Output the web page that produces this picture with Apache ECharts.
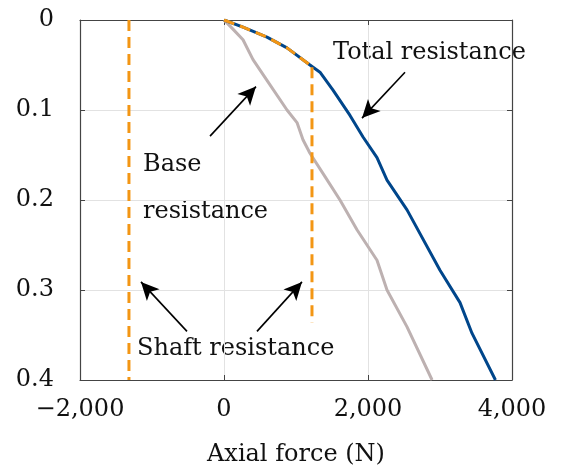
<!DOCTYPE html>
<html style="height: 100%">
<head>
<meta charset="utf-8">
<script src="https://cdn.jsdelivr.net/npm/echarts@6/dist/echarts.min.js"></script>
</head>
<body style="height: 100%; margin: 0; background: #fff">
<div id="container" style="width: 562px; height: 475px"></div>
<script type="text/javascript">
// total resistance curve: [axial force (N), displacement]
var totalCurve = [
  [0, 0], [264, 0.008], [597, 0.019], [875, 0.031], [1194, 0.05],
  [1333, 0.058], [1514, 0.078], [1750, 0.106], [1931, 0.13], [2125, 0.153],
  [2264, 0.178], [2542, 0.211], [3000, 0.278], [3278, 0.314], [3444, 0.348],
  [3770, 0.4]
];
// base resistance curve
var baseCurve = [
  [0, 0], [111, 0.009], [264, 0.022], [403, 0.044], [597, 0.067],
  [875, 0.1], [1014, 0.114], [1097, 0.133], [1194, 0.148], [1403, 0.174],
  [1611, 0.2], [1847, 0.233], [2125, 0.267], [2264, 0.3], [2542, 0.341],
  [2890, 0.4]
];
// shaft resistance (dashed): follows total until it levels off, then vertical
var shaftCurve = [
  [0, 0], [264, 0.008], [597, 0.019], [875, 0.031], [1194, 0.05],
  [1222, 0.05], [1222, 0.336]
];
var shaftNeg = [[-1320, 0], [-1320, 0.4]];

// annotation arrows [tail, head]
var arrows = [
  [[2514, 0.058], [1917, 0.109]],
  [[-194, 0.129], [444, 0.074]],
  [[-514, 0.346], [-1153, 0.291]],
  [[458, 0.346], [1083, 0.291]]
];

var xTicks = { min: -2000, max: 4000, interval: 2000 };
var yTicks = { min: 0, max: 0.4, interval: 0.1 };

var font = '"DejaVu Serif", "Liberation Serif", serif';
var fs = 24;
var axisColor = '#444';

var dom = document.getElementById("container");
var myChart = echarts.init(dom);

function xFmt(v) {
  return (v < 0 ? '\u2212' : '') + Math.abs(v).toLocaleString('en-US');
}
function yFmt(v) {
  return v === 0 ? '0' : String(+v.toFixed(1));
}

var option = {
  animation: false,
  grid: { left: 80, top: 20, right: 50, bottom: 95 },
  xAxis: [
    {
      type: 'value', position: 'bottom',
      min: xTicks.min, max: xTicks.max, interval: xTicks.interval,
      name: 'Axial force (N)', nameLocation: 'middle', nameGap: 63,
      nameTextStyle: { fontFamily: font, fontSize: fs, color: '#111' },
      axisLine: { show: true, onZero: false, lineStyle: { color: axisColor, width: 1.2 } },
      axisTick: { show: true, inside: true, length: 5, lineStyle: { color: axisColor } },
      axisLabel: { formatter: xFmt, fontFamily: font, fontSize: fs, color: '#111', margin: 18 },
      splitLine: { show: true, lineStyle: { color: '#e2e2e2', width: 1 } }
    },
    {
      type: 'value', position: 'top',
      min: xTicks.min, max: xTicks.max, interval: xTicks.interval,
      axisLine: { show: true, onZero: false, lineStyle: { color: axisColor, width: 1.2 } },
      axisTick: { show: true, inside: true, length: 5, lineStyle: { color: axisColor } },
      axisLabel: { show: false },
      splitLine: { show: false }
    }
  ],
  yAxis: [
    {
      type: 'value', position: 'left', inverse: true,
      min: yTicks.min, max: yTicks.max, interval: yTicks.interval,
      axisLine: { show: true, onZero: false, lineStyle: { color: axisColor, width: 1.2 } },
      axisTick: { show: true, inside: true, length: 5, lineStyle: { color: axisColor } },
      axisLabel: { formatter: yFmt, fontFamily: font, fontSize: fs, color: '#111', margin: 26 },
      splitLine: { show: true, lineStyle: { color: '#e2e2e2', width: 1 } }
    },
    {
      type: 'value', position: 'right', inverse: true,
      min: yTicks.min, max: yTicks.max, interval: yTicks.interval,
      axisLine: { show: true, onZero: false, lineStyle: { color: axisColor, width: 1.2 } },
      axisTick: { show: true, inside: true, length: 5, lineStyle: { color: axisColor } },
      axisLabel: { show: false },
      splitLine: { show: false }
    }
  ],
  series: [
    {
      name: 'Base resistance', type: 'line', data: baseCurve,
      showSymbol: false,
      lineStyle: { color: '#bdb1b1', width: 3 }
    },
    {
      name: 'Total resistance', type: 'line', data: totalCurve,
      showSymbol: false,
      lineStyle: { color: '#00468b', width: 3 }
    },
    {
      name: 'Shaft resistance', type: 'line', data: shaftCurve,
      showSymbol: false,
      lineStyle: { color: '#f39614', width: 3, type: [11, 6] }
    },
    {
      name: 'Shaft resistance (neg)', type: 'line', data: shaftNeg,
      showSymbol: false,
      lineStyle: { color: '#f39614', width: 3, type: [11, 6] }
    },
    {
      name: 'arrows', type: 'line', data: [],
      markLine: {
        silent: true, animation: false,
        symbol: ['none', 'arrow'], symbolSize: [13, 18],
        label: { show: false },
        lineStyle: { color: '#000', width: 1.6, type: 'solid' },
        data: arrows.map(function (a) {
          return [{ coord: a[0] }, { coord: a[1] }];
        })
      }
    }
  ],
  graphic: [
    { type: 'text', left: 333, top: 41,
      style: { text: 'Total resistance', font: fs + 'px ' + font, fill: '#111' } },
    { type: 'text', left: 143, top: 153,
      style: { text: 'Base', font: fs + 'px ' + font, fill: '#111' } },
    { type: 'text', left: 143, top: 200,
      style: { text: 'resistance', font: fs + 'px ' + font, fill: '#111' } },
    { type: 'text', left: 137, top: 337,
      style: { text: 'Shaft resistance', font: fs + 'px ' + font, fill: '#111' } }
  ]
};

myChart.setOption(option, true);
</script>
</body>
</html>
